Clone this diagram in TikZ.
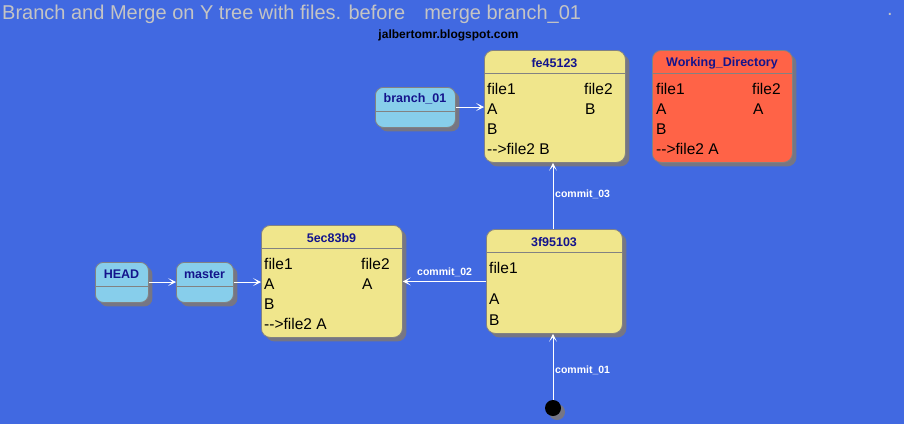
\documentclass[tikz,border=0pt]{standalone}
\usepackage{fontspec}
\setmainfont{Liberation Sans}
\usetikzlibrary{arrows.meta}

\definecolor{bgblue}{RGB}{65,105,225}
\definecolor{khakifill}{RGB}{240,230,140}
\definecolor{skyfill}{RGB}{135,206,235}
\definecolor{tomatofill}{RGB}{255,99,71}
\definecolor{boxline}{RGB}{130,130,130}
\definecolor{shadowgray}{RGB}{118,118,132}
\definecolor{headtext}{RGB}{20,20,140}
\definecolor{titlegray}{RGB}{196,196,196}

\tikzset{
  shadowed/.style={preaction={fill=shadowgray, transform canvas={shift={(4pt,-4pt)}}}},
  statebox/.style={draw=boxline, line width=0.8pt, rounded corners=9pt,
    anchor=north west, inner sep=0pt, shadowed},
  smallbox/.style={statebox, fill=skyfill, rounded corners=8pt},
  divider/.style={draw=boxline, line width=0.8pt},
  head/.style={text=headtext, font=\bfseries\fontsize{12.5}{14}\selectfont, inner sep=0pt},
  row/.style={anchor=west, inner sep=0pt, font=\fontsize{15.5}{17}\selectfont},
  elabel/.style={text=white, anchor=west, inner sep=0pt,
    font=\bfseries\fontsize{10.5}{12}\selectfont},
  arr/.style={draw=white, line width=0.9pt,
    -{Stealth[length=8pt,width=8pt,inset=4.5pt]}}
}

\begin{document}
\begin{tikzpicture}[x=1pt,y=-1pt]
\fill[bgblue] (0,0) rectangle (904,424);
\useasboundingbox (0,0) rectangle (904,424);

% title and credit
\node[anchor=west, inner sep=0pt, text=titlegray, font=\fontsize{20}{22}\selectfont]
  (title) at (2,14) {Branch and Merge on Y tree with files. before\hspace{19pt}merge branch\_01};
\node[inner sep=0pt, text=titlegray, font=\fontsize{20}{22}\selectfont] (dot) at (890,14) {.};
\node[inner sep=0pt, font=\bfseries\fontsize{12}{14}\selectfont] (credit) at (448.5,35) {jalbertomr.blogspot.com};

% commit fe45123
\node[statebox, fill=khakifill, minimum width=141pt, minimum height=112pt] (cfe) at (484,50) {};
\draw[divider] ([yshift=-23pt]cfe.north west) -- ([yshift=-23pt]cfe.north east);
\node[head] (cfe-h) at (554.5,63) {fe45123};
\node[row] (cfe-a) at (487,89) {file1};
\node[row] (cfe-b) at (584,89) {file2};
\node[row] (cfe-c) at (487,109) {A};
\node[row] (cfe-d) at (585,109) {B};
\node[row] (cfe-e) at (487,129) {B};
\node[row] (cfe-f) at (487,149) {-{}->file2 B};

% working directory
\node[statebox, fill=tomatofill, minimum width=140pt, minimum height=112pt] (wd) at (652,50) {};
\draw[divider] ([yshift=-23pt]wd.north west) -- ([yshift=-23pt]wd.north east);
\node[head] (wd-h) at (722,63) {Working\_Directory};
\node[row] (wd-a) at (656,89) {file1};
\node[row] (wd-b) at (752,89) {file2};
\node[row] (wd-c) at (656,109) {A};
\node[row] (wd-d) at (753,109) {A};
\node[row] (wd-e) at (656,129) {B};
\node[row] (wd-f) at (656,149) {-{}->file2 A};

% branch_01 pointer
\node[smallbox, minimum width=80pt, minimum height=40pt] (b01) at (375,87) {};
\draw[divider] ([yshift=-24pt]b01.north west) -- ([yshift=-24pt]b01.north east);
\node[head] (b01-h) at (415,99) {branch\_01};

% HEAD and master pointers
\node[smallbox, minimum width=53pt, minimum height=40pt] (hd) at (95,262) {};
\draw[divider] ([yshift=-24pt]hd.north west) -- ([yshift=-24pt]hd.north east);
\node[head] (hd-h) at (121.5,274) {HEAD};
\node[smallbox, minimum width=57pt, minimum height=40pt] (ms) at (176,262) {};
\draw[divider] ([yshift=-24pt]ms.north west) -- ([yshift=-24pt]ms.north east);
\node[head] (ms-h) at (204.5,274) {master};

% commit 5ec83b9
\node[statebox, fill=khakifill, minimum width=141pt, minimum height=112pt] (c5e) at (261,225) {};
\draw[divider] ([yshift=-23pt]c5e.north west) -- ([yshift=-23pt]c5e.north east);
\node[head] (c5e-h) at (331.5,238) {5ec83b9};
\node[row] (c5e-a) at (264,264) {file1};
\node[row] (c5e-b) at (361,264) {file2};
\node[row] (c5e-c) at (264,284) {A};
\node[row] (c5e-d) at (362,284) {A};
\node[row] (c5e-e) at (264,304) {B};
\node[row] (c5e-f) at (264,324) {-{}->file2 A};

% commit 3f95103
\node[statebox, fill=khakifill, minimum width=136pt, minimum height=104pt] (c3f) at (486,229) {};
\draw[divider] ([yshift=-23pt]c3f.north west) -- ([yshift=-23pt]c3f.north east);
\node[head] (c3f-h) at (554,242) {3f95103};
\node[row] (c3f-a) at (489,268) {file1};
\node[row] (c3f-b) at (489,299) {A};
\node[row] (c3f-c) at (489,320) {B};

% initial state
\node[circle, fill=black, minimum size=16pt, inner sep=0pt, shadowed] (start) at (553,408) {};

% transitions
\draw[arr] (hd.east |- 0,282) -- (ms.west |- 0,282);
\draw[arr] (ms.east |- 0,282) -- (c5e.west |- 0,282);
\draw[arr] (b01.east |- 0,107) -- (cfe.west |- 0,107);
\draw[arr] (start.north) -- (c3f.south -| start);
\draw[arr] (c3f.north -| start) -- (cfe.south -| start);
\draw[arr] (c3f.west) -- (c5e.east);

% transition labels
\node[elabel] (l01) at (555,370) {commit\_01};
\node[elabel] (l02) at (417,272) {commit\_02};
\node[elabel] (l03) at (555,194) {commit\_03};
\end{tikzpicture}
\end{document}
